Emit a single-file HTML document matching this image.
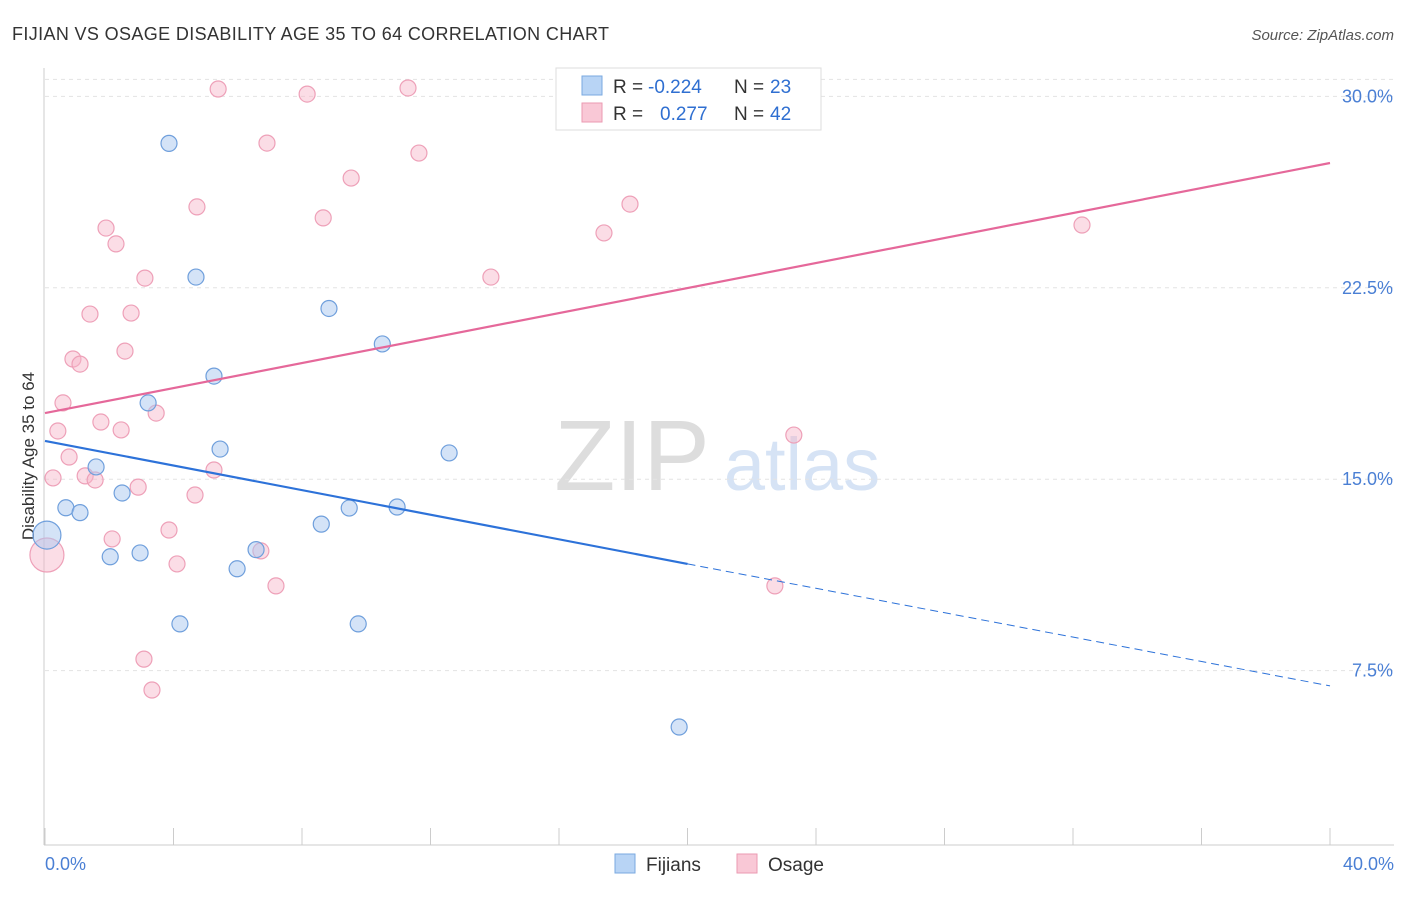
<!DOCTYPE html>
<html><head><meta charset="utf-8"><style>
body{margin:0;background:#fff;font-family:"Liberation Sans",sans-serif}
svg text{font-family:"Liberation Sans",sans-serif}
</style></head><body>
<svg id="c" width="1406" height="892">
<text x="12" y="40" font-size="18" fill="#333" textLength="597">FIJIAN VS OSAGE DISABILITY AGE 35 TO 64 CORRELATION CHART</text>
<text x="1394" y="40" font-size="15" fill="#555" font-style="italic" text-anchor="end">Source: ZipAtlas.com</text>
<text x="34" y="456" font-size="17" fill="#333" text-anchor="middle" transform="rotate(-90 34 456)">Disability Age 35 to 64</text>
<text x="632" y="490" font-size="100" fill="#ddd" font-family="Liberation Serif" text-anchor="middle">ZIP</text>
<text x="802" y="490" font-size="74" fill="#d6e3f5" text-anchor="middle">atlas</text>
<g id="grid"></g><g id="pts"></g><g id="lines"></g>
<g>
<rect x="556" y="68" width="265" height="62" fill="#fff" stroke="#ddd"/>
<rect x="582" y="76" width="20" height="19" fill="#b8d4f5" stroke="#7aa9e0"/>
<text x="613" y="93" font-size="19" fill="#333">R =</text>
<text x="648" y="93" font-size="19" fill="#2f6fd1">-0.224</text>
<text x="734" y="93" font-size="19" fill="#333">N =</text>
<text x="770" y="93" font-size="19" fill="#2f6fd1">23</text>
<rect x="582" y="103" width="20" height="19" fill="#f9c8d6" stroke="#eb9ab2"/>
<text x="613" y="120" font-size="19" fill="#333">R =</text>
<text x="660" y="120" font-size="19" fill="#2f6fd1">0.277</text>
<text x="734" y="120" font-size="19" fill="#333">N =</text>
<text x="770" y="120" font-size="19" fill="#2f6fd1">42</text>
</g>
<g>
<rect x="615" y="854" width="20" height="19" fill="#b8d4f5" stroke="#7aa9e0"/>
<text x="646" y="871" font-size="19" fill="#333">Fijians</text>
<rect x="737" y="854" width="20" height="19" fill="#f9c8d6" stroke="#eb9ab2"/>
<text x="768" y="871" font-size="19" fill="#333">Osage</text>
</g>
</svg>
<script>
const yTicks=[7.5,15,22.5,30];
const yTickLabels=["7.5%","15.0%","22.5%","30.0%"];
const xTickLabels=["0.0%","40.0%"];
const fijX=[0.06,0.65,1.09,1.59,2.03,2.40,2.96,3.21,3.86,4.20,4.70,5.26,5.45,5.98,6.57,8.60,8.84,9.47,9.75,10.50,10.96,12.58,19.74];
const fijY=[12.81,13.88,13.69,15.48,11.96,14.46,12.11,17.99,28.16,9.33,22.92,19.04,16.18,11.49,12.24,13.24,21.69,13.87,9.33,20.30,13.91,16.03,5.29];
const osaX=[0.06,0.25,0.40,0.56,0.75,0.87,1.09,1.25,1.40,1.56,1.74,1.90,2.09,2.21,2.37,2.49,2.68,2.90,3.08,3.11,3.33,3.46,3.86,4.11,4.67,4.73,5.26,5.39,6.72,6.91,7.19,8.16,8.66,9.53,11.30,11.64,13.88,17.40,18.21,22.72,23.31,32.28];
const osaY=[12.03,15.05,16.89,17.99,15.87,19.71,19.51,15.13,21.47,14.97,17.24,24.84,12.66,24.22,16.93,20.02,21.51,14.69,7.95,22.88,6.74,17.59,13.01,11.68,14.38,25.67,15.36,30.29,12.19,28.17,10.82,30.09,25.24,26.80,30.33,27.78,22.92,24.65,25.78,10.82,16.73,24.96];
const fijTrend=[0,16.5,20,11.68,40,6.9];
const osaTrend=[0,17.59,40,27.39];
const X=v=>45+v/40*1285, Y=v=>862-v*25.52;
const NS="http://www.w3.org/2000/svg";
function mk(t,a,p){const e=document.createElementNS(NS,t);for(const k in a)e.setAttribute(k,a[k]);p.appendChild(e);return e;}
const g=document.getElementById('grid');
yTicks.forEach((t,i)=>{
 const l=mk('line',{x1:45,x2:1394,y1:Y(t),y2:Y(t),stroke:'#e3e3e3','stroke-dasharray':'4 4'},g);
 
 
 const tx=mk('text',{x:1393,y:Y(t)+6,'font-size':18,fill:'#4a7fd4','text-anchor':'end'},g);tx.textContent=yTickLabels[i];
 
 
});
mk('line',{x1:45,x2:1394,y1:Y(30)-17,y2:Y(30)-17,stroke:'#e3e3e3','stroke-dasharray':'4 4'},g);
const ax=mk('line',{x1:44,x2:44,y1:68,y2:845,stroke:'#ccc'},g);


const bx=mk('line',{x1:44,x2:1394,y1:845,y2:845,stroke:'#ccc'},g);


for(let i=0;i<=10;i++){const t=mk('line',{x1:X(i*4),x2:X(i*4),y1:828,y2:845,stroke:'#ccc'},g);
 
 }
[[0,'start',45],[40,'end',1394]].forEach((d,i)=>{const t=mk('text',{x:d[2],y:870,'font-size':18,fill:'#4a7fd4','text-anchor':d[1]},g);t.textContent=xTickLabels[i];
 
 });
const p=document.getElementById('pts');
osaX.forEach((x,i)=>{const c=mk('circle',{cx:X(x),cy:Y(osaY[i]),r:i==0?17:8,fill:'rgba(247,180,200,0.45)',stroke:'#eea0b8','stroke-width':1.2},p);
 
 });
fijX.forEach((x,i)=>{const c=mk('circle',{cx:X(x),cy:Y(fijY[i]),r:i==0?14:8,fill:'rgba(170,200,240,0.5)',stroke:'#6f9fdc','stroke-width':1.2},p);
 
 });
const L=document.getElementById('lines');
let a=mk('line',{x1:X(fijTrend[0]),y1:Y(fijTrend[1]),x2:X(fijTrend[2]),y2:Y(fijTrend[3]),stroke:'#2d72d9','stroke-width':2.2},L);


a=mk('line',{x1:X(fijTrend[2]),y1:Y(fijTrend[3]),x2:X(fijTrend[4]),y2:Y(fijTrend[5]),stroke:'#2d72d9','stroke-width':1,'stroke-dasharray':'8 5'},L);


a=mk('line',{x1:X(osaTrend[0]),y1:Y(osaTrend[1]),x2:X(osaTrend[2]),y2:Y(osaTrend[3]),stroke:'#e5689a','stroke-width':2.2},L);


</script>
</body></html>
